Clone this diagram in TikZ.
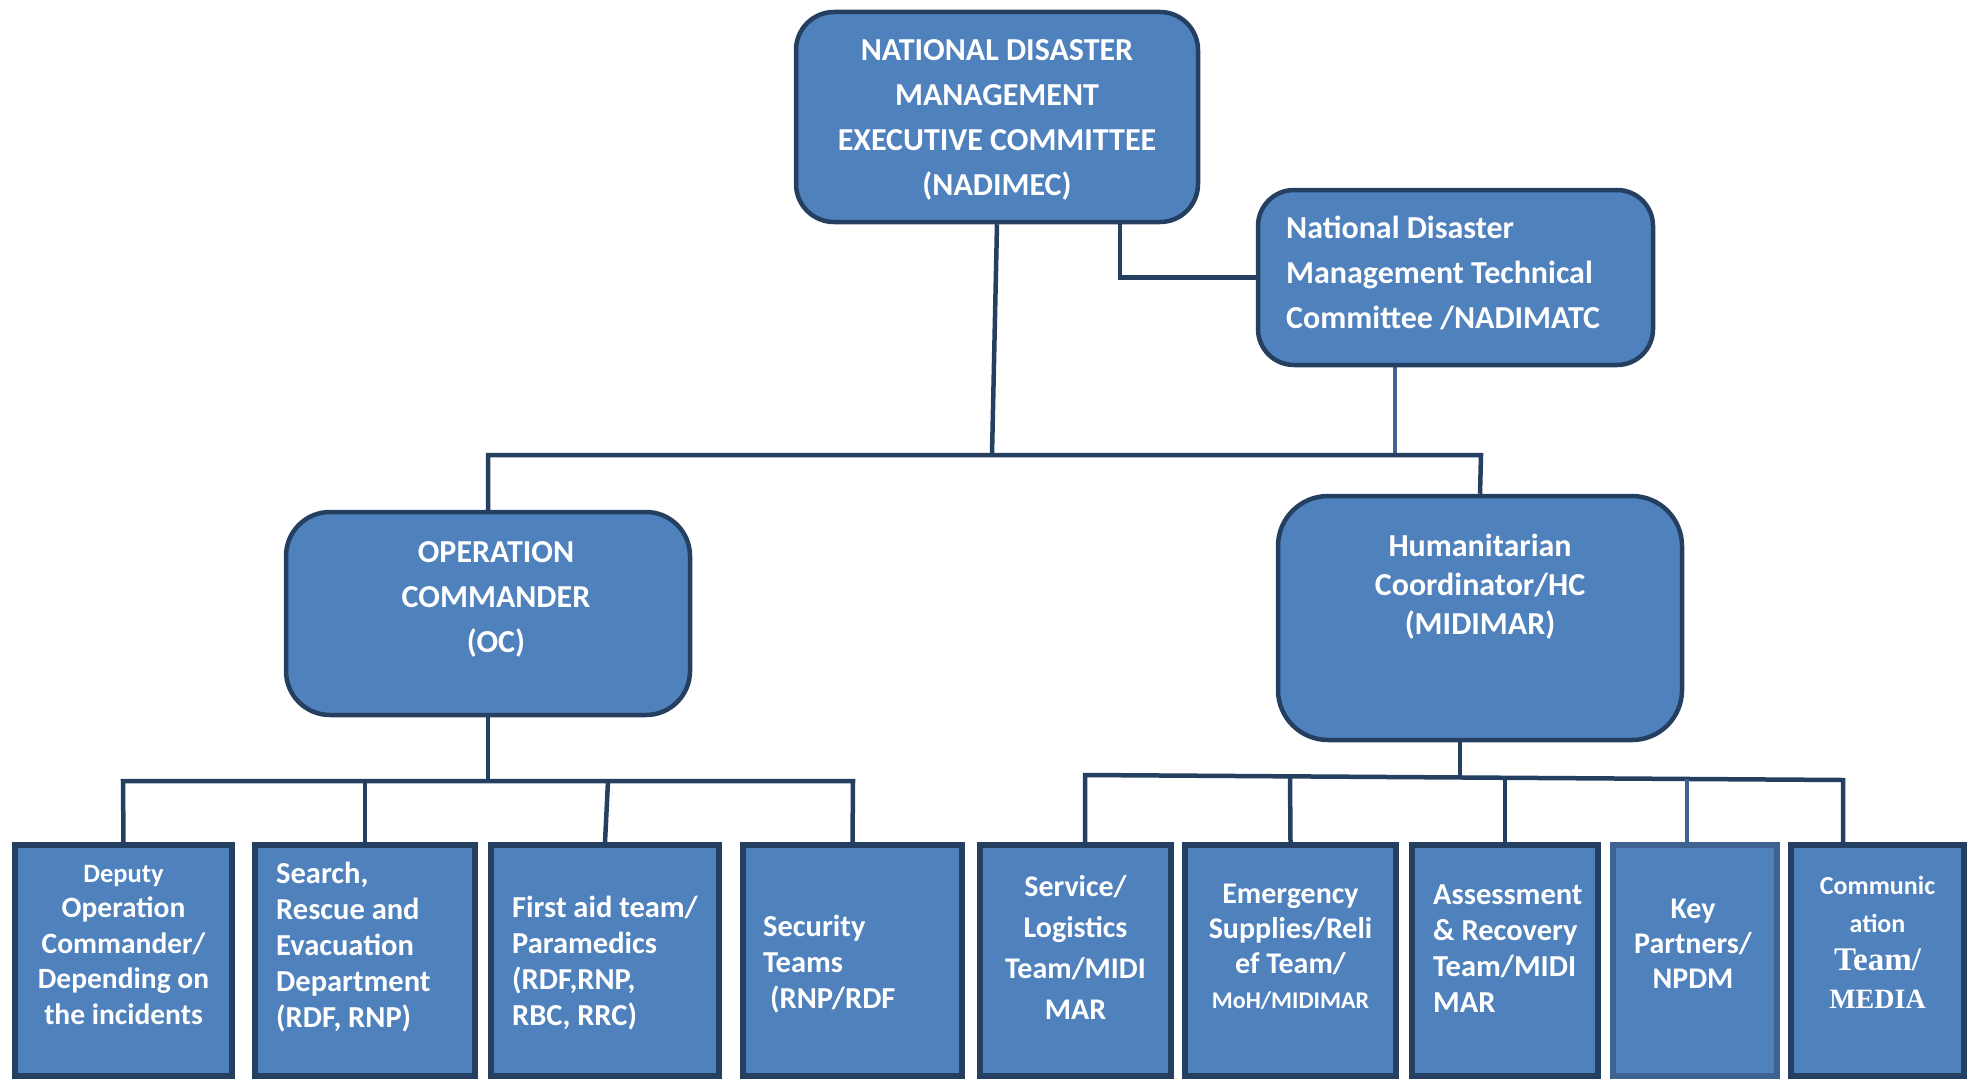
\documentclass[tikz,border=0pt]{standalone}
\usepackage{fontspec}
\setmainfont{Carlito}
\newfontfamily\cambria{Liberation Serif}
\usetikzlibrary{backgrounds}
\definecolor{boxfill}{HTML}{4F81BD}
\definecolor{boxline}{HTML}{243F60}
\definecolor{lightline}{HTML}{3E6390}
\begin{document}
\begin{tikzpicture}[x=1pt,y=-1pt,
  rbox/.style={draw=boxline, fill=boxfill, line width=4.5pt, inner sep=0pt},
  sbox/.style={draw=boxline, fill=boxfill, line width=5.5pt, inner sep=0pt, minimum height=231pt},
  conn/.style={draw=boxline, line width=4.5pt, line join=miter},
  lconn/.style={draw=lightline, line width=4.5pt},
  txt/.style={text=white, font=\bfseries\fontsize{32}{45}\selectfont, align=center, inner sep=0pt},
  btxt/.style={text=white, font=\bfseries\fontsize{30.5}{36}\selectfont, inner sep=0pt},
]
\useasboundingbox (0,0) rectangle (1969,1081);

% upper boxes
\node[rbox, rounded corners=38pt, minimum width=402pt, minimum height=210pt] (nadimec) at (997,117) {};
\node[rbox, rounded corners=36pt, minimum width=395pt, minimum height=175pt] (nadimatc) at (1455.5,277.5) {};
\node[rbox, rounded corners=44pt, minimum width=404pt, minimum height=203pt] (oc) at (488,613.5) {};
\node[rbox, rounded corners=50pt, minimum width=404pt, minimum height=244pt] (hc) at (1480,618) {};

% bottom boxes
\node[sbox, minimum width=217pt] (b1) at (123.5,960.5) {};
\node[sbox, minimum width=220pt] (b2) at (365,960.5) {};
\node[sbox, minimum width=228pt] (b3) at (605,960.5) {};
\node[sbox, minimum width=219pt] (b4) at (852.5,960.5) {};
\node[sbox, minimum width=191pt] (b5) at (1075.5,960.5) {};
\node[sbox, minimum width=211pt] (b6) at (1290.5,960.5) {};
\node[sbox, minimum width=186pt] (b7) at (1505,960.5) {};
\node[sbox, draw=lightline, minimum width=164pt] (b8) at (1695,960.5) {};
\node[sbox, minimum width=173pt] (b9) at (1877.5,960.5) {};

% texts
\node[txt] (t-nadimec) at (997,120) {NATIONAL DISASTER\\MANAGEMENT\\EXECUTIVE COMMITTEE\\(NADIMEC)};
\node[txt, align=left, anchor=west] (t-nadimatc) at (1286,273) {National Disaster\\Management Technical\\Committee /NADIMATC};
\node[txt] (t-oc) at (496,599) {OPERATION\\COMMANDER\\(OC)};
\node[txt, font=\bfseries\fontsize{32}{39}\selectfont] (t-hc) at (1480,587) {Humanitarian\\Coordinator/HC\\(MIDIMAR)};

\node[btxt, align=center, font=\bfseries\fontsize{29.5}{35.5}\selectfont] (t1) at (123.5,945) {{\fontsize{26.5}{35.5}\selectfont Deputy}\\Operation\\Commander/\\Depending on\\the incidents};
\node[btxt, align=left, anchor=west] (t2) at (276,947) {Search,\\Rescue and\\Evacuation\\Department\\(RDF, RNP)};
\node[btxt, align=left, anchor=west] (t3) at (512,963) {First aid team/\\Paramedics\\(RDF,RNP,\\RBC, RRC)};
\node[btxt, align=left, anchor=west] (t4) at (763,964) {Security\\Teams\\\hspace*{7pt}(RNP/RDF};
\node[btxt, align=center, font=\bfseries\fontsize{30}{41}\selectfont] (t5) at (1075.5,947) {Service/\\Logistics\\Team/MIDI\\MAR};
\node[btxt, align=center, font=\bfseries\fontsize{30}{35}\selectfont] (t6) at (1290.5,947) {Emergency\\Supplies/Reli\\ef Team/\\{\fontsize{24}{35}\selectfont MoH/MIDIMAR}};
\node[btxt, align=left, anchor=west] (t7) at (1433,949) {Assessment\\\&~Recovery\\Team/MIDI\\MAR};
\node[btxt, align=center, font=\bfseries\fontsize{30}{35}\selectfont] (t8) at (1693,944) {Key\\Partners/\\NPDM};
\node[btxt, align=center, font=\bfseries\fontsize{26}{38}\selectfont] (t9) at (1877.5,942) {Communic\\ation\\{\cambria\bfseries\fontsize{33}{38}\selectfont Team/}\\{\cambria\bfseries\fontsize{28}{38}\selectfont MEDIA}};

% connectors
\begin{pgfonlayer}{background}
\coordinate (j) at (992,455);
\coordinate (jl) at (488,455);
\coordinate (jr) at (1481,455);
\coordinate (a1) at (1120,0);
\coordinate (a2) at (1395,455);
\draw[conn] (nadimec.south) -- (j);
\draw[conn] (nadimec.south -| a1) |- (nadimatc.west);
\draw[lconn] (nadimatc.south -| a2) -- (a2);
\draw[conn] (oc.north) -- (jl) -- (jr) -- (hc.north);

\coordinate (l1) at (123,781);
\coordinate (l2) at (365,781);
\coordinate (l3) at (608,781);
\coordinate (l4) at (853,781);
\coordinate (lc) at (488,781);
\draw[conn] (b1.north) -- (l1) -- (l4) -- (b4.north);
\draw[conn] (oc.south) -- (lc);
\draw[conn] (l2) -- (b2.north);
\draw[conn] (l3) -- (b3.north);

\coordinate (r1) at (1085,775);
\coordinate (r2) at (1290,776.4);
\coordinate (rc) at (1460,777.5);
\coordinate (r3) at (1505,777.8);
\coordinate (r4) at (1687,779);
\coordinate (r5) at (1843,780);
\draw[conn] (b5.north -| r1) -- (r1) -- (r5) -- (b9.north -| r5);
\draw[conn] (hc.south -| rc) -- (rc);
\draw[conn] (r2) -- (b6.north);
\draw[conn] (r3) -- (b7.north);
\draw[lconn] (r4) -- (b8.north -| r4);
\end{pgfonlayer}
\end{tikzpicture}
\end{document}
